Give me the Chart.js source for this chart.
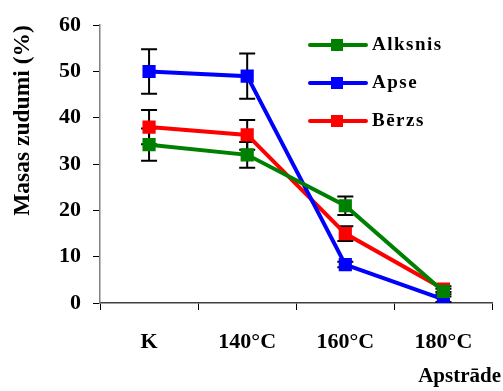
<!DOCTYPE html>
<html>
<head>
<meta charset="utf-8">
<script src="https://cdn.jsdelivr.net/npm/chart.js@4"></script>
<style>
  html, body { margin: 0; padding: 0; background: #fff; }
  #wrap { width: 503px; height: 391px; }
</style>
</head>
<body>
<div id="wrap"><canvas id="chartLoss" width="503" height="391"></canvas></div>
<script>
const categories = ['K', '140°C', '160°C', '180°C'];
const seriesNames = ['Alksnis', 'Apse', 'Bērzs'];
const seriesColors = ['#008000', '#0000ff', '#ff0000'];

const alksnis = [34.2, 32.0, 21.0, 2.5];
const apse = [50.0, 49.0, 8.3, 0.8];
const berzs = [38.0, 36.3, 15.0, 3.0];

const alksnisErr = [3.5, 2.8, 2.0, 0.6];
const apseErr = [4.8, 4.9, 0.6, 0.6];
const berzsErr = [3.7, 3.2, 1.6, 0.6];

const yTicks = [0, 10, 20, 30, 40, 50, 60];

const values = [alksnis, apse, berzs];
const errors = [alksnisErr, apseErr, berzsErr];

const FONT = '"Liberation Serif", "Times New Roman", serif';

// error bars under the points
const errorBarPlugin = {
  id: 'errorBars',
  beforeDatasetsDraw(chart) {
    const ctx = chart.ctx;
    const y = chart.scales.y;
    ctx.save();
    ctx.strokeStyle = '#000';
    ctx.lineWidth = 2;
    chart.data.datasets.forEach((ds, i) => {
      const meta = chart.getDatasetMeta(i);
      meta.data.forEach((pt, j) => {
        const v = ds.data[j];
        const e = errors[i][j];
        const top = y.getPixelForValue(v + e);
        const bot = y.getPixelForValue(Math.max(v - e, 0));
        ctx.beginPath();
        ctx.moveTo(pt.x, top); ctx.lineTo(pt.x, bot);
        ctx.moveTo(pt.x - 8, top); ctx.lineTo(pt.x + 8, top);
        ctx.moveTo(pt.x - 8, bot); ctx.lineTo(pt.x + 8, bot);
        ctx.stroke();
      });
    });
    ctx.restore();
  }
};

// legend inside the plot, plus the x axis title at the far right
const innerLegend = {
  id: 'innerLegend',
  afterDraw(chart) {
    const ctx = chart.ctx;
    ctx.save();
    ctx.textBaseline = 'middle';
    chart.data.datasets.forEach((ds, i) => {
      const yy = 45 + i * 38;
      ctx.strokeStyle = ds.borderColor;
      ctx.lineWidth = 4;
      ctx.lineCap = 'round';
      ctx.beginPath();
      ctx.moveTo(310, yy); ctx.lineTo(366, yy);
      ctx.stroke();
      ctx.fillStyle = ds.borderColor;
      ctx.fillRect(331, yy - 6, 12, 12);
      ctx.fillStyle = '#000';
      ctx.font = 'bold 19px ' + FONT;
      ctx.letterSpacing = '1.5px';
      ctx.fillText(ds.label, 372, yy);
    });
    ctx.letterSpacing = '0px';
    ctx.font = 'bold 21px ' + FONT;
    ctx.textAlign = 'right';
    ctx.fillText('Apstrāde', 501, 377);
    ctx.restore();
  }
};

const datasets = seriesNames.map((name, i) => ({
  label: name,
  data: values[i],
  borderColor: seriesColors[i],
  backgroundColor: seriesColors[i],
  borderWidth: 4,
  pointStyle: 'rect',
  pointRadius: 6.5,
  pointHoverRadius: 6.5,
  tension: 0
}));

new Chart(document.getElementById('chartLoss').getContext('2d'), {
  type: 'line',
  data: { labels: categories, datasets: datasets },
  options: {
    responsive: false,
    animation: false,
    layout: { padding: { top: 12, right: 9, left: 0, bottom: 0 } },
    plugins: { legend: { display: false }, tooltip: { enabled: false } },
    scales: {
      x: {
        offset: true,
        grid: { offset: true, drawOnChartArea: false, tickLength: 7, color: '#000' },
        border: { color: '#404040', width: 1.5 },
        ticks: { color: '#000', padding: 19, font: { family: FONT, size: 22, weight: 'bold' } },
        afterFit: s => { s.height = 88; }
      },
      y: {
        min: 0, max: 60,
        afterBuildTicks: s => { s.ticks = yTicks.map(v => ({ value: v })); },
        grid: { drawOnChartArea: false, tickLength: 7, color: '#000' },
        border: { color: '#808080', width: 1.5 },
        ticks: { color: '#000', padding: 12, font: { family: FONT, size: 22, weight: 'bold' } },
        title: {
          display: true, text: 'Masas zudumi (%)', color: '#000', align: 'end',
          padding: { top: 9, bottom: 0 },
          font: { family: FONT, size: 23.5, weight: 'bold' }
        },
        afterFit: s => { s.width = 100; }
      }
    }
  },
  plugins: [errorBarPlugin, innerLegend]
});
</script>
</body>
</html>
